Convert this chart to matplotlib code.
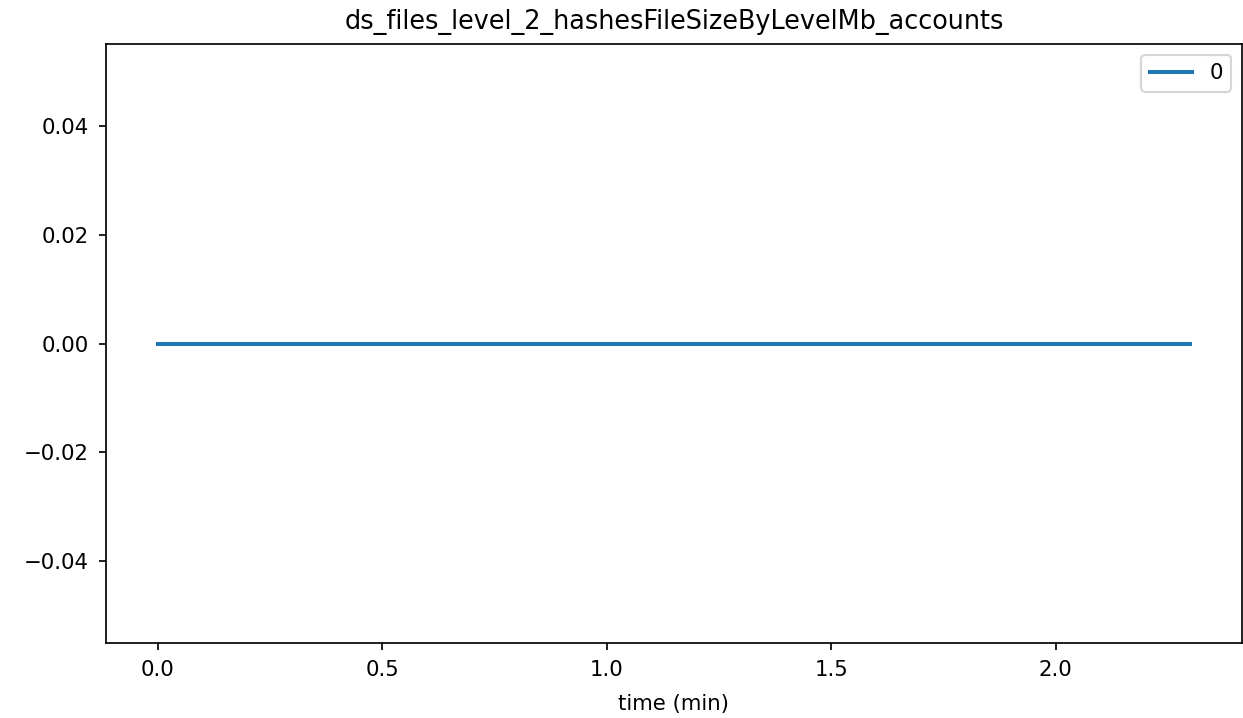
import matplotlib
matplotlib.use("Agg")
import matplotlib.pyplot as plt

# time samples (minutes) and the metric value at each sample
time_min = [0.0, 0.1, 0.2, 0.3, 0.4, 0.5, 0.6, 0.7, 0.8, 0.9, 1.0, 1.1,
            1.2, 1.3, 1.4, 1.5, 1.6, 1.7, 1.8, 1.9, 2.0, 2.1, 2.2, 2.3]
values = [0, 0, 0, 0, 0, 0, 0, 0, 0, 0, 0, 0,
          0, 0, 0, 0, 0, 0, 0, 0, 0, 0, 0, 0]
series_name = "0"
title = "ds_files_level_2_hashesFileSizeByLevelMb_accounts"

DPI = 153
fig = plt.figure(figsize=(1243 / DPI, 718 / DPI), dpi=DPI)
ax = fig.add_axes([106 / 1243, 1 - 643 / 718, (1242 - 106) / 1243, (643 - 44) / 718])

ax.plot(time_min, values, label=series_name, linewidth=1.9)
ax.set_title(title, pad=7)
ax.set_xlabel("time (min)", labelpad=6.5)
ax.tick_params(pad=4.5)
ax.legend()

fig.savefig("out.png", dpi=DPI)
